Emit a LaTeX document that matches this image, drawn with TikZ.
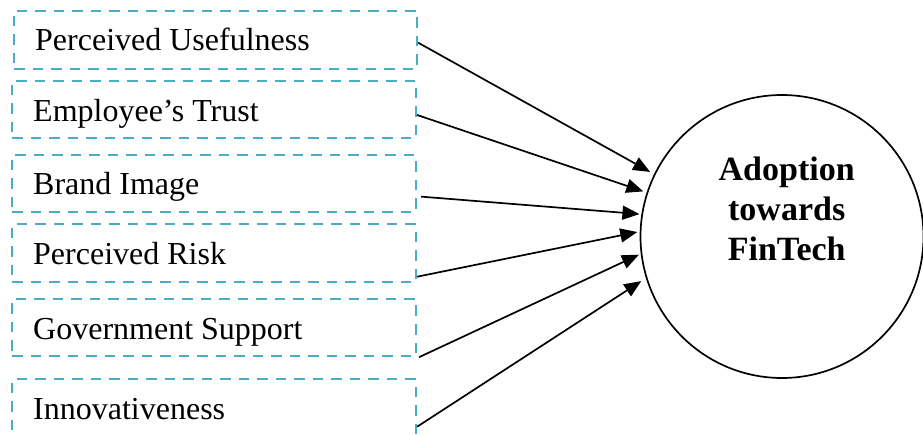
\documentclass[tikz,border=0pt]{standalone}
\usepackage{fontspec}
\setmainfont{Liberation Serif}
\usetikzlibrary{arrows.meta}
\definecolor{boxcol}{HTML}{4BACC6}
\tikzset{
  factorbox/.style={draw=boxcol, line width=2.3pt, dash pattern=on 10.5pt off 8pt, rectangle, inner sep=0pt},
  lbl/.style={inner sep=0pt, font=\fontsize{32}{38}\selectfont, anchor=base west},
  arr/.style={line width=1.7pt, -{Triangle[length=17pt,width=14pt]}},
  target/.style={draw, circle, line width=1.7pt, minimum size=283pt, inner sep=0pt},
}
\begin{document}
\begin{tikzpicture}[x=1pt,y=-1pt]
\useasboundingbox (0,0) rectangle (923,435);
% factor boxes
\node[factorbox, minimum width=403pt, minimum height=58.3pt] (b1) at (215.5,39.85) {};
\node[factorbox, minimum width=404pt, minimum height=57.6pt] (b2) at (214,109.5) {};
\node[factorbox, minimum width=404pt, minimum height=56.7pt] (b3) at (214,183.35) {};
\node[factorbox, minimum width=404pt, minimum height=58pt] (b4) at (214,253.3) {};
\node[factorbox, minimum width=404pt, minimum height=57pt] (b5) at (214,327.5) {};
\node[factorbox, minimum width=404pt, minimum height=58pt] (b6) at (214,408) {};
% labels
\node[lbl] (t1) at (35,50.7) {Perceived Usefulness};
\node[lbl] (t2) at (33,121.7) {Employee’s Trust};
\node[lbl] (t3) at (33,194.3) {Brand Image};
\node[lbl] (t4) at (33,265) {Perceived Risk};
\node[lbl] (t5) at (33,339) {Government Support};
\node[lbl] (t6) at (33,419.3) {Innovativeness};
% target
\node[target] (c) at (782,236.5) {};
\node[inner sep=0pt, align=center, font=\fontsize{34}{40}\selectfont\bfseries] (ct) at (786.7,208.5) {Adoption\\towards\\FinTech};
% arrows
\draw[arr, shorten >=4.5pt] ([yshift=-2.85pt]b1.east) -- (c.154.8);
\draw[arr, shorten >=3.5pt] ([yshift=-5.5pt]b2.east) -- (c.162.1);
\draw[arr, shorten >=2pt] ([xshift=4pt,yshift=-13.3pt]b3.east) -- (c.171);
\draw[arr, shorten >=2.5pt] ([yshift=-23.4pt]b4.east) -- (c.178.7);
\draw[arr, shorten >=2pt] ([xshift=2pt]b5.south east) -- (c.187.4);
\draw[arr, shorten >=5.5pt] ([yshift=-18.7pt]b6.east) -- (c.197.9);
\end{tikzpicture}
\end{document}
